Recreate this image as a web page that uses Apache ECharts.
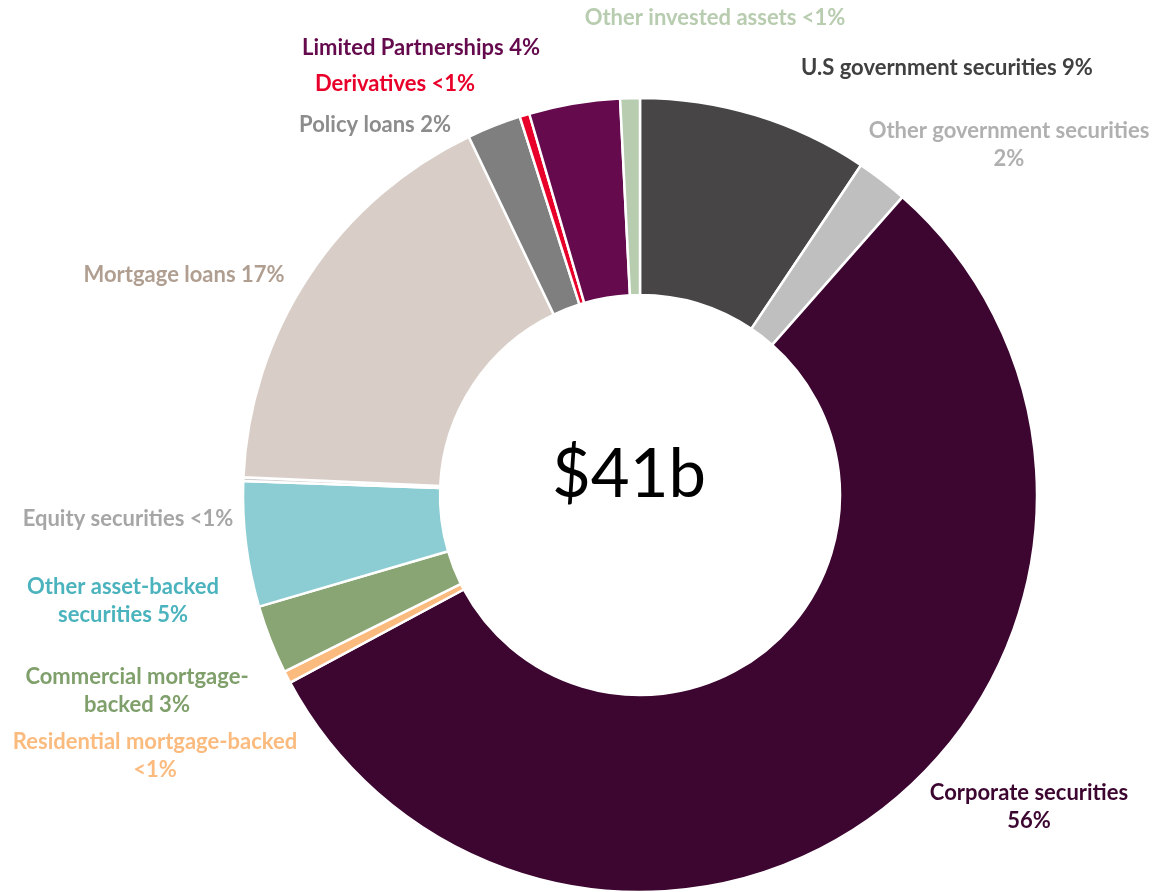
<!DOCTYPE html>
<html lang="en">

<head>
    <meta charset="UTF-8">
    <title>Invested assets</title>
    <script src="https://cdn.jsdelivr.net/npm/echarts@6/dist/echarts.min.js"></script>
    <style>
        html, body {
            margin: 0;
            padding: 0;
            background: #fff;
        }
    </style>
</head>

<body>
    <div id="chart" style="width:1155px;height:892px;"></div>
    <script>
        // slices clockwise from 12 o'clock
        const names = [
            'U.S government securities', 'Other government securities', 'Corporate securities',
            'Residential mortgage-backed', 'Commercial mortgage-backed', 'Other asset-backed securities',
            'Equity securities', 'Mortgage loans', 'Policy loans', 'Derivatives',
            'Limited Partnerships', 'Other invested assets'
        ];
        const values = [9.4, 2.1, 55.7, 0.5, 2.8, 5.1, 0.15, 17.2, 2.2, 0.4, 3.7, 0.8];
        const labelTexts = [
            'U.S government securities 9%', 'Other government securities\n2%', 'Corporate securities\n56%',
            'Residential mortgage-backed\n<1%', 'Commercial mortgage-\nbacked 3%', 'Other asset-backed\nsecurities 5%',
            'Equity securities <1%', 'Mortgage loans 17%', 'Policy loans 2%', 'Derivatives <1%',
            'Limited Partnerships 4%', 'Other invested assets <1%'
        ];
        const centerText = '$41b';

        const sliceColors = ['#474546', '#bfbfbf', '#3c0630', '#fbbb7f', '#8aa574', '#8ccdd3',
            '#d0d0d0', '#d9cec7', '#7f7f7f', '#e8002a', '#640a4d', '#b8ccb0'];
        const labelColors = ['#404040', '#b0b0b0', '#3c0630', '#fbbb7f', '#7f9f6b', '#4bb3bd',
            '#a6a6a6', '#b09f91', '#8c8c8c', '#e8002a', '#640a4d', '#b8ccb0'];
        // label centres (px)
        const labelPos = [
            [947, 68], [1009, 145], [1029, 807], [155, 756], [137, 691], [123, 601],
            [128, 519], [184, 275], [375, 125], [395, 84], [421, 48], [715, 18]
        ];

        let chart = echarts.init(document.getElementById('chart'));
        let option = {
            animation: false,
            series: [{
                type: 'pie',
                center: [640, 495],
                radius: [200, 397],
                startAngle: 90,
                clockwise: true,
                avoidLabelOverlap: false,
                itemStyle: {
                    borderColor: '#fff',
                    borderWidth: 2.5
                },
                label: {
                    show: true,
                    fontFamily: 'Lato',
                    fontWeight: 'bold',
                    fontSize: 22,
                    lineHeight: 28,
                    align: 'center',
                    formatter: p => labelTexts[p.dataIndex]
                },
                labelLine: { show: false },
                labelLayout: p => ({
                    x: labelPos[p.dataIndex][0],
                    y: labelPos[p.dataIndex][1],
                    align: 'center',
                    verticalAlign: 'middle'
                }),
                emphasis: { disabled: true },
                data: names.map((n, i) => ({
                    name: n,
                    value: values[i],
                    itemStyle: { color: sliceColors[i] },
                    label: { color: labelColors[i] }
                }))
            }],
            graphic: [{
                type: 'text',
                left: 552,
                top: 442,
                style: {
                    text: centerText,
                    fontFamily: 'Lato',
                    fontSize: 67,
                    fill: '#000'
                }
            }]
        };
        chart.setOption(option);
    </script>
</body>

</html>
